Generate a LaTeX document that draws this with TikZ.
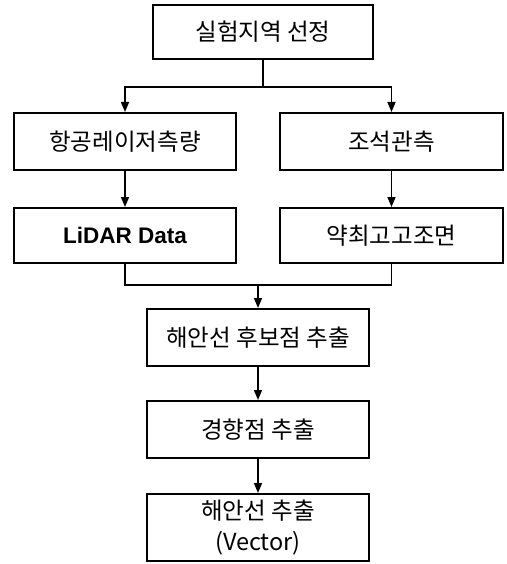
\documentclass[tikz,border=0pt]{standalone}
\usepackage{fontspec}
\setmainfont{Noto Sans CJK KR}
\newfontfamily\latinbold{Liberation Sans}
\usetikzlibrary{arrows.meta}
\begin{document}
\begin{tikzpicture}[x=1pt,y=-1pt,
  box/.style={draw=black,line width=2pt,rectangle,minimum width=222pt,minimum height=57pt,inner sep=0pt,font=\fontsize{23.5}{31}\selectfont,align=center},
  conn/.style={line width=1.6pt},
  arr/.style={conn,-{Triangle[length=10pt,width=8pt]}}]
\useasboundingbox (0,0) rectangle (506,564);
\node[box,minimum width=220pt,minimum height=54pt] (b1) at (263,32) {실험지역 선정};
\node[box] (b2) at (125,141.5) {항공레이저측량};
\node[box,minimum width=223pt] (b3) at (391.5,141.5) {조석관측};
\node[box,minimum height=55pt] (b4) at (125,235.5) {\latinbold\bfseries\fontsize{22.5}{27}\selectfont LiDAR Data};
\node[box,minimum width=223pt,minimum height=55pt] (b5) at (391.5,235.5) {약최고고조면};
\node[box] (b6) at (258,337.5) {해안선 후보점 추출};
\node[box] (b7) at (258,429.5) {경향점 추출};
\node[box,minimum height=67pt] (b8) at (258,527.5) {해안선 추출\\(Vector)};
\coordinate (j1) at (263,87);
\coordinate (j2) at (258,285);
\draw[conn] (b1.south) -- (j1);
\draw[arr] (j1) -| (b2.north);
\draw[arr] (j1) -| (b3.north);
\draw[arr] (b2.south) -- (b4.north);
\draw[arr] (b3.south) -- (b5.north);
\draw[conn] (b4.south) |- (j2);
\draw[conn] (b5.south) |- (j2);
\draw[arr] (j2) -- (b6.north);
\draw[arr] (b6.south) -- (b7.north);
\draw[arr] (b7.south) -- (b8.north);
\end{tikzpicture}
\end{document}
